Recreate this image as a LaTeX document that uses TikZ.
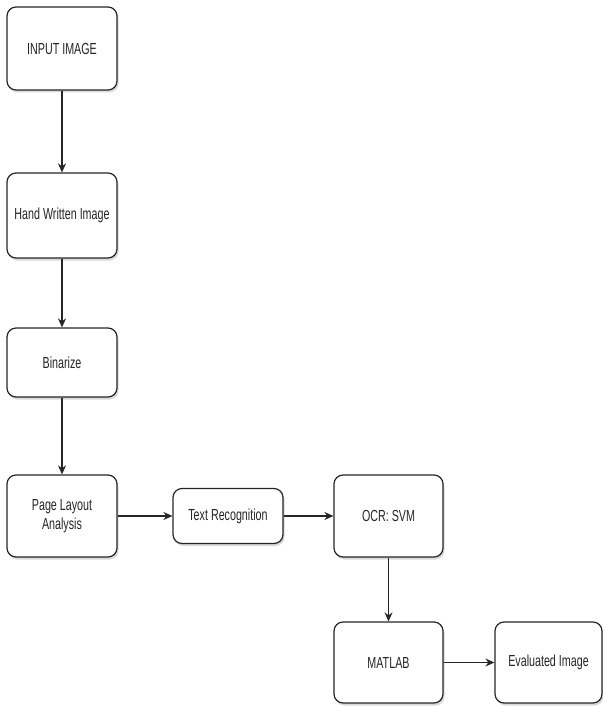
\documentclass[tikz,border=0pt]{standalone}
\usepackage{fontspec}
\setmainfont{Liberation Sans}
\newfontfamily\condfont[FakeStretch=0.67]{Liberation Sans}
\usetikzlibrary{arrows.meta,shadows,positioning}
\tikzset{
  box/.style={draw=black!85, line width=1.2pt, rounded corners=9pt, fill=white,
    drop shadow={shadow xshift=1.5pt, shadow yshift=-2.5pt, opacity=0.25, fill=black!60},
    font=\condfont\fontsize{16}{19}\selectfont, align=center, inner sep=0pt,
    text=black!85},
  conn/.style={draw=black!85, line width=1.2pt, -{Stealth[length=9pt, width=8pt]}}
}
\begin{document}
\begin{tikzpicture}[x=1pt, y=-1pt]
\useasboundingbox (0,0) rectangle (602,706);
\node[box, minimum width=110pt, minimum height=83pt] (in) at (62,48.5) {INPUT IMAGE};
\node[box, minimum width=110pt, minimum height=85pt] (hw) at (62,215.5) {Hand Written Image};
\node[box, minimum width=110pt, minimum height=69pt] (bin) at (62,362.5) {Binarize};
\node[box, minimum width=110pt, minimum height=82pt] (pla) at (62,516) {Page Layout\\Analysis};
\node[box, minimum width=110pt, minimum height=55pt] (tr) at (228,516) {Text Recognition};
\node[box, minimum width=109pt, minimum height=82pt] (ocr) at (388.5,516) {OCR: SVM};
\node[box, minimum width=109pt, minimum height=81pt] (mat) at (388.5,662.5) {MATLAB};
\node[box, minimum width=107pt, minimum height=81pt] (ev) at (548.5,662.5) {Evaluated Image};
\draw[conn] (in) -- (hw);
\draw[conn] (hw) -- (bin);
\draw[conn] (bin) -- (pla);
\draw[conn] (pla) -- (tr);
\draw[conn] (tr) -- (ocr);
\draw[conn] (ocr) -- (mat);
\draw[conn] (mat) -- (ev);
\end{tikzpicture}
\end{document}
